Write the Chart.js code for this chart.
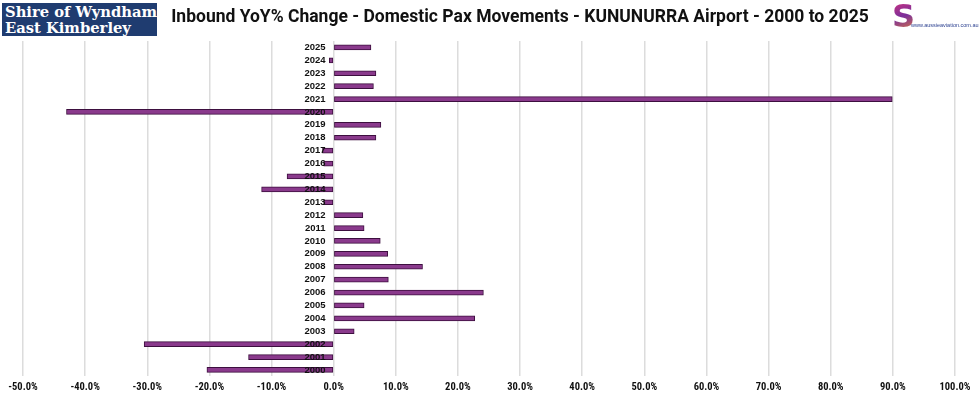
<!DOCTYPE html>
<html>
<head>
<meta charset="utf-8">
<script src="https://cdn.jsdelivr.net/npm/chart.js@4/dist/chart.umd.min.js"></script>
<style>
  html, body { margin: 0; padding: 0; background: #fff; }
  #wrap { position: relative; width: 980px; height: 404px; overflow: hidden; }
  #chart { position: absolute; left: 0; top: 0; }
  .shire {
    position: absolute; left: 2px; top: 3px; width: 155px; height: 33px;
    background: #1f3c70; color: #fff; box-sizing: border-box; padding: 1px 0 0 3px;
    overflow: hidden;
  }
  .shire div {
    font-family: "DejaVu Serif", serif; font-weight: bold; font-size: 15.5px; line-height: 15.5px;
    white-space: nowrap; transform: scaleX(0.95); transform-origin: left top;
  }
  .title {
    position: absolute; left: 120px; top: 6px; width: 800px; text-align: center; white-space: nowrap;
    font-family: Roboto, "Noto Sans", sans-serif; font-weight: bold; font-size: 17.5px; color: #111;
  }
  .logo { position: absolute; left: 892px; top: 3px; width: 86px; height: 30px; }
  .logo .s {
    position: absolute; left: 0; top: -6px; font-family: "DejaVu Sans", sans-serif; font-weight: bold;
    font-size: 32px; background: linear-gradient(160deg, #e2337a, #7a2f9a 50%, #f18a2a);
    -webkit-background-clip: text; background-clip: text; color: transparent;
  }
  .logo .url {
    position: absolute; left: 19px; top: 19px; font-family: "Liberation Sans", sans-serif;
    font-size: 5.5px; color: #2a3f8f; white-space: nowrap;
  }
</style>
</head>
<body>
<div id="wrap">
  <canvas id="chart" width="980" height="404"></canvas>
  <div class="shire"><div>Shire of Wyndham</div><div>East Kimberley</div></div>
  <div class="title">Inbound YoY% Change - Domestic Pax Movements - KUNUNURRA Airport - 2000 to 2025</div>
  <div class="logo"><span class="s">S</span><span class="url">www.aussieaviation.com.au</span></div>
</div>
<script>
// years bottom to top, YoY % change of inbound domestic passengers
const years = ['2000', '2001', '2002', '2003', '2004', '2005', '2006', '2007', '2008', '2009',
    '2010', '2011', '2012', '2013', '2014', '2015', '2016', '2017', '2018', '2019',
    '2020', '2021', '2022', '2023', '2024', '2025'];
const yoyChange = [-20.4, -13.7, -30.5, 3.3, 22.7, 4.9, 24.1, 8.8, 14.3, 8.7,
    7.5, 4.9, 4.7, -1.6, -11.6, -7.5, -1.6, -1.8, 6.8, 7.6,
    -43.0, 89.9, 6.4, 6.8, -0.7, 6.0];
const xMin = -50;
const xMax = 100;
const xStep = 10;

const ctx = document.getElementById('chart').getContext('2d');
const myChart = new Chart(ctx, {
    type: 'bar',
    data: {
        labels: years,
        datasets: [{
            label: 'YoY % change',
            data: yoyChange,
            backgroundColor: '#8a3a8c',
            borderColor: '#3d0f3f',
            borderWidth: 1,
            borderSkipped: false,
            barThickness: 5
        }]
    },
    options: {
        indexAxis: 'y',
        responsive: false,
        animation: false,
        layout: { padding: { top: 41, left: 23, right: 25, bottom: 5 } },
        plugins: {
            legend: { display: false },
            tooltip: { enabled: false }
        },
        scales: {
            x: {
                min: xMin,
                max: xMax,
                grid: { color: '#dcdcdc', lineWidth: 1.5, drawTicks: false },
                border: { display: false },
                ticks: {
                    stepSize: xStep,
                    padding: 5,
                    color: '#111',
                    font: { family: '"Liberation Sans Narrow", "Roboto Condensed", "Liberation Sans", sans-serif', size: 10.5, weight: 'bold' },
                    callback: function (value) {
                        return value.toFixed(1) + '%';
                    }
                }
            },
            y: {
                reverse: true,
                // labels sit just left of the zero line, over the bars
                position: { x: -1.3 },
                grid: { display: false },
                border: { display: false },
                ticks: {
                    z: 1,
                    autoSkip: false,
                    color: '#111',
                    font: { family: '"Liberation Sans", Arial, sans-serif', size: 9.5, weight: 'bold' }
                }
            }
        }
    }
});
</script>
</body>
</html>
